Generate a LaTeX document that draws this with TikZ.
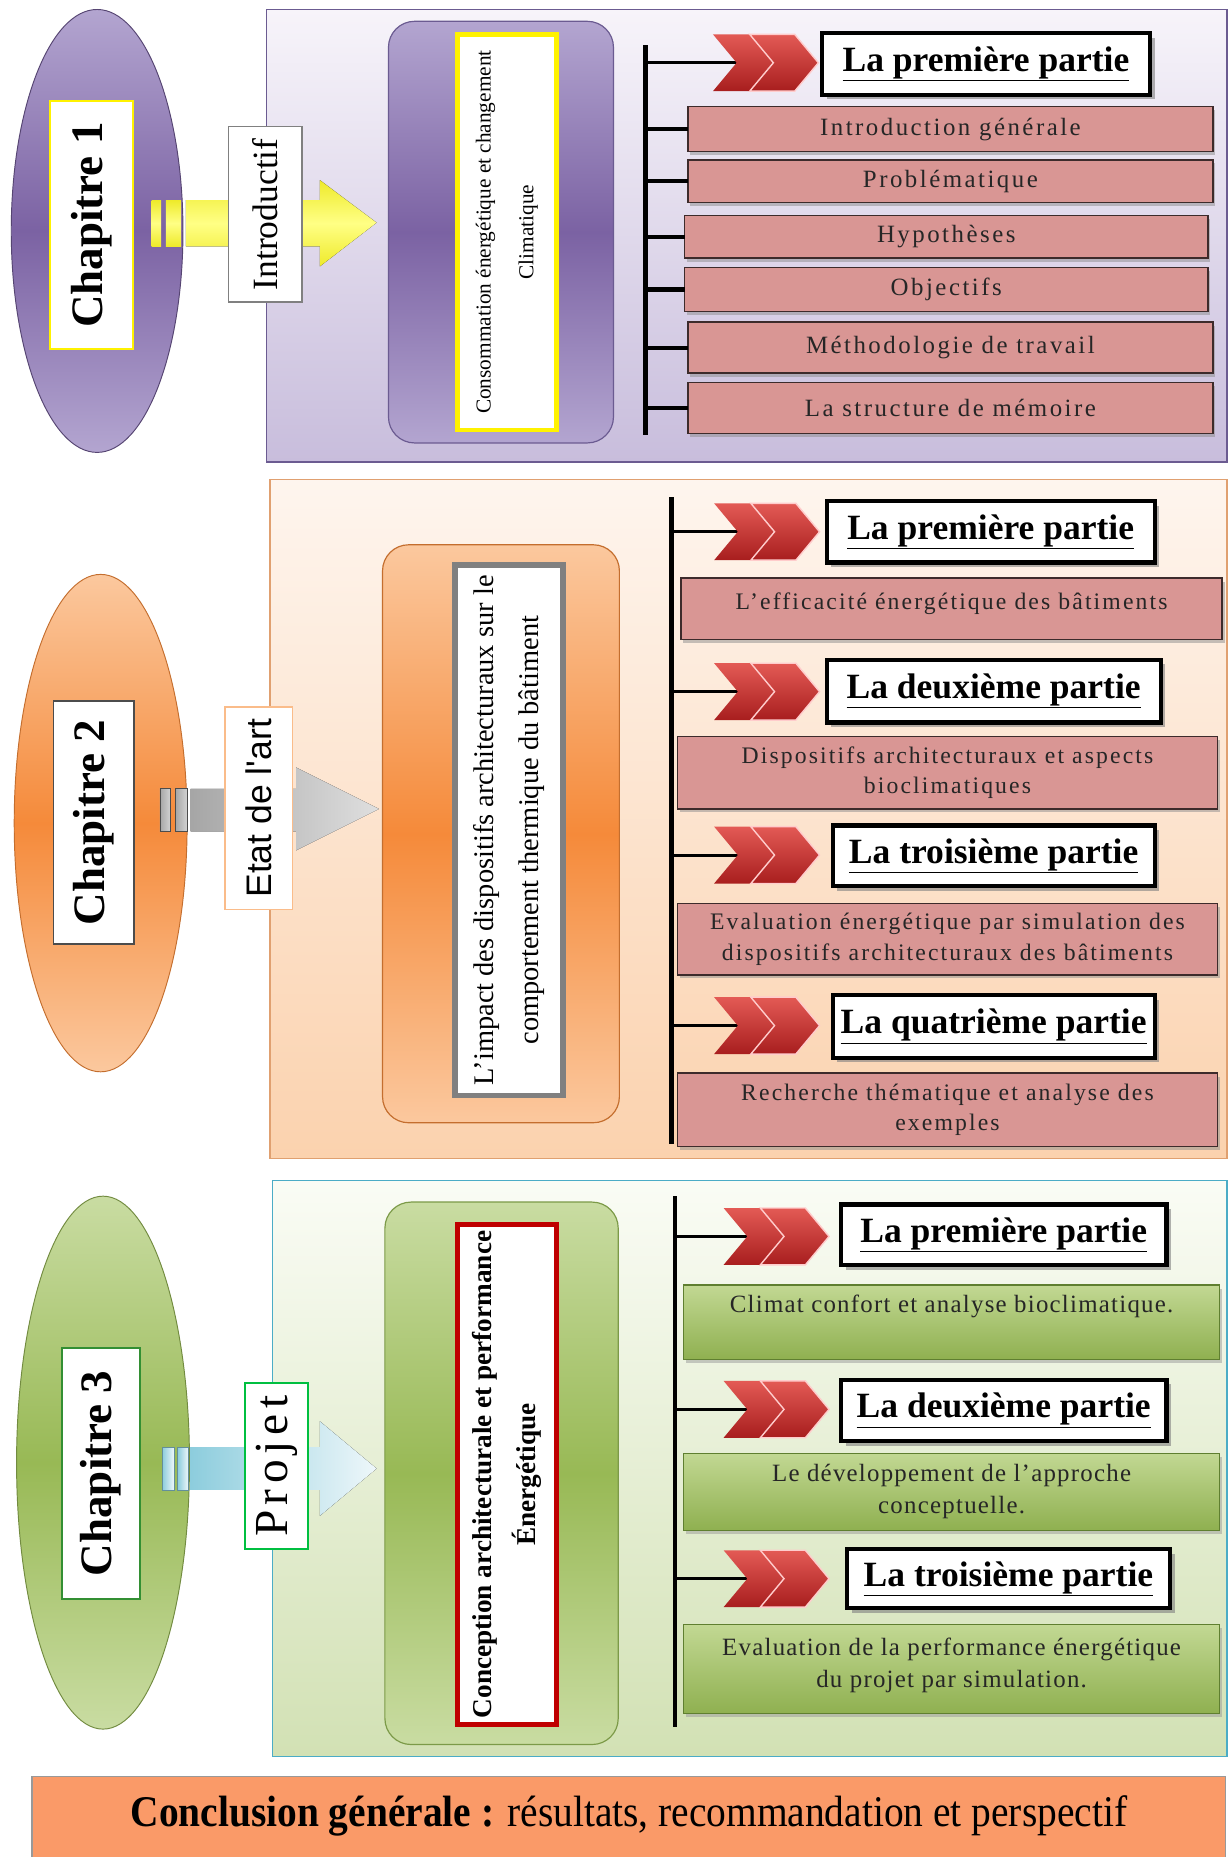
\documentclass[tikz,border=0pt]{standalone}
\usepackage{fontspec}
\setmainfont{Liberation Serif}
\newfontfamily\sansarial{Liberation Sans}
\usetikzlibrary{shapes.geometric,shadows,fit,calc}
\definecolor{purpD}{HTML}{7B62A3}
\definecolor{purpL}{HTML}{B3A5D0}
\definecolor{purpBgA}{HTML}{F7F4FA}
\definecolor{purpBgB}{HTML}{C8BDDC}
\definecolor{purpEdge}{HTML}{6B5B91}
\definecolor{orgD}{HTML}{F58A3A}
\definecolor{orgL}{HTML}{FBC89E}
\definecolor{orgBgA}{HTML}{FEF5EE}
\definecolor{orgBgB}{HTML}{FBD2AE}
\definecolor{orgEdge}{HTML}{E0A070}
\definecolor{grnD}{HTML}{98B955}
\definecolor{grnL}{HTML}{C9DCA2}
\definecolor{grnBgA}{HTML}{FAFCF5}
\definecolor{grnBgB}{HTML}{D2E1B4}
\definecolor{tealE}{HTML}{4BACC6}
\definecolor{grnEdge}{HTML}{7C9A48}
\definecolor{pinkF}{HTML}{D99694}
\definecolor{pinkE}{HTML}{3D2B2B}
\definecolor{grnBoxT}{HTML}{C2D893}
\definecolor{grnBoxB}{HTML}{8FB050}
\definecolor{grnBoxE}{HTML}{5F7F30}
\definecolor{chevA}{HTML}{E35A55}
\definecolor{chevB}{HTML}{A81E1E}
\definecolor{yelA}{HTML}{EEEA2A}
\definecolor{yelB}{HTML}{FFFF85}
\definecolor{blueA}{HTML}{8DCDDD}
\definecolor{blueB}{HTML}{EEF7FA}
\definecolor{conclF}{HTML}{FA9A68}
\tikzset{
  base/.style={rectangle, inner sep=0pt, outer sep=0pt},
  outerbox/.style={base, line width=1.2pt},
  ellshape/.style={ellipse, inner sep=0pt, outer sep=0pt, line width=.8pt},
  chapbox/.style={base, fill=white, line width=1.8pt},
  chaptxt/.style={rotate=90, inner sep=0pt, font=\fontsize{38}{40}\selectfont\bfseries},
  lblbox/.style={base, fill=white, line width=1.2pt},
  rrbox/.style={base, rounded corners=22pt, line width=1pt},
  inbox/.style={base, fill=white},
  intxt/.style={rotate=90, align=center, inner sep=0pt},
  titlebox/.style={base, fill=white, draw=black, line width=3.5pt,
    drop shadow={shadow xshift=4pt, shadow yshift=-4pt, fill=black!50, opacity=.6}},
  titletxt/.style={inner sep=0pt, font=\fontsize{30}{32}\selectfont\bfseries},
  pinkbox/.style={base, fill=pinkF, draw=pinkE, line width=1.4pt,
    drop shadow={shadow xshift=2pt, shadow yshift=-3pt, fill=black!45, opacity=.5}},
  grnbox/.style={base, top color=grnBoxT, bottom color=grnBoxB, draw=grnBoxE, line width=1pt,
    drop shadow={shadow xshift=2pt, shadow yshift=-3pt, fill=black!40, opacity=.5}},
  pinkA/.style={inner sep=0pt, align=center, text=black!85, font=\fontsize{21}{24}\selectfont\addfontfeatures{LetterSpace=10}},
  pinkB/.style={inner sep=0pt, align=center, text=black!85, font=\fontsize{20}{26}\selectfont\addfontfeatures{LetterSpace=9}},
  grnT/.style={align=center, inner sep=0pt, text=black!85, font=\fontsize{21}{27}\selectfont\addfontfeatures{LetterSpace=5}},
  vline/.style={line width=4pt, black},
  branch/.style={line width=3.5pt, black},
  cbranch/.style={line width=2.5pt, black},
  chevs/.pic={
    \path[top color=chevA, bottom color=chevB] (0,-24) -- (38,-24) -- (58,0) -- (38,24) -- (0,24) -- (20,0) -- cycle;
    \path[top color=chevA, bottom color=chevB, draw=white!80!red, line width=1.2pt] (31,-24) -- (69,-24) -- (89,0) -- (69,24) -- (31,24) -- (51,0) -- cycle;
  }
}
\begin{document}
\begin{tikzpicture}[x=1pt,y=-1pt]
\useasboundingbox (0,0) rectangle (1038,1568);
\fill[white] (0,0) rectangle (1038,1568);

% ================= Section 1 =================
\node[outerbox, draw=purpEdge, top color=purpBgA, bottom color=purpBgB, fit={(225,8) (1036,390)}] (out1) {};
\node[ellshape, minimum width=145pt, minimum height=374pt, draw=purpD!70!black, top color=purpL, bottom color=purpL, middle color=purpD] (e1) at (82,195) {};
\node[chapbox, draw=yellow, fit={(42,85) (112,295)}] (c1) {};
\node[chaptxt] (c1t) at (c1.center) {Chapitre 1};
% arrow 1
\fill[top color=yelA, bottom color=yelA, middle color=yelB] (128,169) rectangle (136,208);
\fill[top color=yelA, bottom color=yelA, middle color=yelB] (140,169) rectangle (153,208);
\fill[top color=yelA, bottom color=yelA, middle color=yelB] (157,169) -- (270,169) -- (270,152) -- (318,188) -- (270,225) -- (270,208) -- (157,208) -- cycle;
\node[lblbox, draw=gray, fit={(193,107) (255,255)}] (l1) {};
\node[rotate=90, font=\fontsize{30}{32}\selectfont] (l1t) at (l1.center) {Introductif};
\node[rrbox, draw=purpEdge, top color=purpL, bottom color=purpL, middle color=purpD, fit={(328,18) (518,374)}] (r1) {};
\node[inbox, draw=yellow, line width=4pt, fit={(386,29) (470,363)}] (i1) {};
\node[intxt, font=\fontsize{18}{36}\selectfont] (i1t) at (i1.center) {Consommation énergétique et changement\\Climatique};

\coordinate (v1t) at (545,38);
\coordinate (v1b) at (545,367);
\draw[vline] (v1t) -- (v1b);
\coordinate (k1) at (602,53);
\draw[cbranch] (v1t |- k1) -- ([xshift=22pt]k1);
\pic at (k1) {chevs};
\node[titlebox, fit={(694,28) (971,80)}] (t1) {};
\node[titletxt] (t1t) at (t1.center) {\underline{La première partie}};

\node[pinkbox, fit={(581,90) (1024,128)}] (p1) {};
\node[pinkbox, fit={(581,135) (1024,171)}] (p2) {};
\node[pinkbox, fit={(578,182) (1020,218)}] (p3) {};
\node[pinkbox, fit={(578,226) (1020,263)}] (p4) {};
\node[pinkbox, fit={(581,272) (1024,315)}] (p5) {};
\node[pinkbox, fit={(581,323) (1024,366)}] (p6) {};
\node[pinkA] (p1t) at (p1.center) {Introduction générale};
\node[pinkA] (p2t) at (p2.center) {Problématique};
\node[pinkA] (p3t) at (p3.center) {Hypothèses};
\node[pinkA] (p4t) at (p4.center) {Objectifs};
\node[pinkA] (p5t) at (p5.center) {Méthodologie de travail};
\node[pinkA] (p6t) at (p6.center) {La structure de mémoire};
\foreach \p in {p1,p2,p3,p4,p5,p6} \draw[branch] (v1t |- \p.west) -- (\p.west);

% ================= Section 2 =================
\node[outerbox, draw=orgEdge, top color=orgBgA, bottom color=orgBgB, fit={(228,405) (1036,978)}] (out2) {};
\node[ellshape, minimum width=146pt, minimum height=420pt, draw=orgD!80!black, top color=orgL, bottom color=orgL, middle color=orgD] (e2) at (85,695) {};
\node[chapbox, draw=black!70, line width=1.2pt, fit={(45,592) (113,797)}] (c2) {};
\node[chaptxt] (c2t) at (c2.center) {Chapitre 2};
% arrow 2
\filldraw[draw=gray!60!black, line width=.6pt, left color=gray!70, right color=gray!35] (135,666) rectangle (144,702);
\filldraw[draw=gray!60!black, line width=.6pt, left color=gray!70, right color=gray!35] (148,666) rectangle (158,702);
\fill[left color=gray!70, right color=gray!25] (161,666) -- (250,666) -- (250,648) -- (320,683) -- (250,718) -- (250,702) -- (161,702) -- cycle;
\node[lblbox, draw=orgL!80!orgD, fit={(190,597) (247,768)}] (l2) {};
\node[rotate=90, font=\fontsize{30}{32}\sansarial] (l2t) at (l2.center) {Etat de l'art};
\node[rrbox, draw=orgD!80!black, top color=orgL, bottom color=orgL, middle color=orgD, fit={(323,460) (523,948)}] (r2) {};
\node[inbox, draw=gray, line width=5pt, fit={(384,477) (475,925)}] (i2) {};
\node[intxt, font=\fontsize{24}{38}\selectfont] (i2t) at (i2.center) {L’impact des dispositifs architecturaux sur le\\comportement thermique du bâtiment};

\coordinate (v2t) at (567,420);
\coordinate (v2b) at (567,966);
\draw[vline] (v2t) -- (v2b);
\coordinate (k2a) at (603,449);
\coordinate (k2b) at (603,584);
\coordinate (k2c) at (603,722);
\coordinate (k2d) at (603,866);
\foreach \k in {k2a,k2b,k2c,k2d} {
  \draw[cbranch] (v2t |- \k) -- ([xshift=22pt]\k);
  \pic at (\k) {chevs};
}
\node[titlebox, fit={(698,423) (975,475)}] (t2a) {};
\node[titlebox, fit={(698,557) (980,610)}] (t2b) {};
\node[titlebox, fit={(703,697) (975,748)}] (t2c) {};
\node[titlebox, fit={(703,840) (975,893)}] (t2d) {};
\node[titletxt] (t2at) at (t2a.center) {\underline{La première partie}};
\node[titletxt] (t2bt) at (t2b.center) {\underline{La deuxième partie}};
\node[titletxt] (t2ct) at (t2c.center) {\underline{La troisième partie}};
\node[titletxt] (t2dt) at (t2d.center) {\underline{La quatrième partie}};
\node[pinkbox, fit={(575,488) (1032,540)}] (p2a) {};
\node[pinkbox, fit={(572,622) (1028,683)}] (p2b) {};
\node[pinkbox, fit={(572,763) (1028,823)}] (p2c) {};
\node[pinkbox, fit={(572,906) (1028,968)}] (p2d) {};
\node[pinkB] (p2at) at ([yshift=4pt]p2a.center) {L’efficacité énergétique des bâtiments};
\node[pinkB] (p2bt) at (p2b.center) {Dispositifs architecturaux et aspects\\bioclimatiques};
\node[pinkB] (p2ct) at (p2c.center) {Evaluation énergétique par simulation des\\dispositifs architecturaux des bâtiments};
\node[pinkB] (p2dt) at (p2d.center) {Recherche thématique et analyse des\\exemples};

% ================= Section 3 =================
\node[outerbox, draw=tealE, top color=grnBgA, bottom color=grnBgB, fit={(230,997) (1036,1483)}] (out3) {};
\node[ellshape, minimum width=146pt, minimum height=450pt, draw=grnD!75!black, top color=grnL, bottom color=grnL, middle color=grnD] (e3) at (87,1235) {};
\node[chapbox, draw=green!45!black!80, fit={(52,1138) (118,1350)}] (c3) {};
\node[chaptxt] (c3t) at (c3.center) {Chapitre 3};
% arrow 3
\filldraw[draw=blueA!70!black, line width=.5pt, left color=blueA, right color=blueB] (137,1222) rectangle (147,1258);
\filldraw[draw=blueA!70!black, line width=.5pt, left color=blueA, right color=blueB] (150,1222) rectangle (159,1258);
\fill[left color=blueA, right color=blueB] (161,1222) -- (270,1222) -- (270,1200) -- (318,1240) -- (270,1280) -- (270,1258) -- (161,1258) -- cycle;
\node[lblbox, draw=green!50!teal, line width=1.5pt, fit={(207,1168) (260,1308)}] (l3) {};
\node[rotate=90, font=\fontsize{40}{42}\selectfont\addfontfeatures{LetterSpace=12}] (l3t) at (l3.center) {Projet};
\node[rrbox, draw=grnEdge, top color=grnL, bottom color=grnL, middle color=grnD, fit={(325,1015) (522,1473)}] (r3) {};
\node[inbox, draw=red!75!black, line width=4pt, fit={(386,1034) (470,1456)}] (i3) {};
\node[intxt, font=\fontsize{23}{37}\selectfont\bfseries] (i3t) at (i3.center) {Conception architecturale et performance\\Énergétique};

\coordinate (v3t) at (570,1010);
\coordinate (v3b) at (570,1458);
\draw[vline] (v3t) -- (v3b);
\coordinate (k3a) at (611,1044);
\coordinate (k3b) at (611,1190);
\coordinate (k3c) at (611,1333);
\foreach \k in {k3a,k3b,k3c} {
  \draw[cbranch] (v3t |- \k) -- ([xshift=22pt]\k);
  \pic at (\k) {chevs};
}
\node[titlebox, fit={(710,1017) (985,1068)}] (t3a) {};
\node[titlebox, fit={(710,1165) (985,1217)}] (t3b) {};
\node[titlebox, fit={(715,1308) (988,1358)}] (t3c) {};
\node[titletxt] (t3at) at (t3a.center) {\underline{La première partie}};
\node[titletxt] (t3bt) at (t3b.center) {\underline{La deuxième partie}};
\node[titletxt] (t3ct) at (t3c.center) {\underline{La troisième partie}};
\node[grnbox, fit={(577,1085) (1030,1148)}] (g3a) {};
\node[grnT] (g3at) at ([yshift=13pt]g3a.center) {Climat confort et analyse bioclimatique.};
\node[grnbox, fit={(577,1227) (1030,1292)}] (g3b) {};
\node[grnT] (g3bt) at (g3b.center) {Le développement de l’approche\\conceptuelle.};
\node[grnbox, fit={(577,1372) (1030,1447)}] (g3c) {};
\node[grnT] (g3ct) at ([yshift=3pt]g3c.center) {Evaluation de la performance énergétique\\du projet par simulation.};

% ================= Conclusion =================
\node[base, fill=conclF, draw=gray!80, line width=1.2pt, fit={(27,1500) (1035,1574)}] (concl) {};
\node (conclt) at (531,1533) {\scalebox{0.9}[1]{\fontsize{37}{40}\selectfont\textbf{Conclusion générale :} résultats, recommandation et perspectif}};
\end{tikzpicture}
\end{document}
